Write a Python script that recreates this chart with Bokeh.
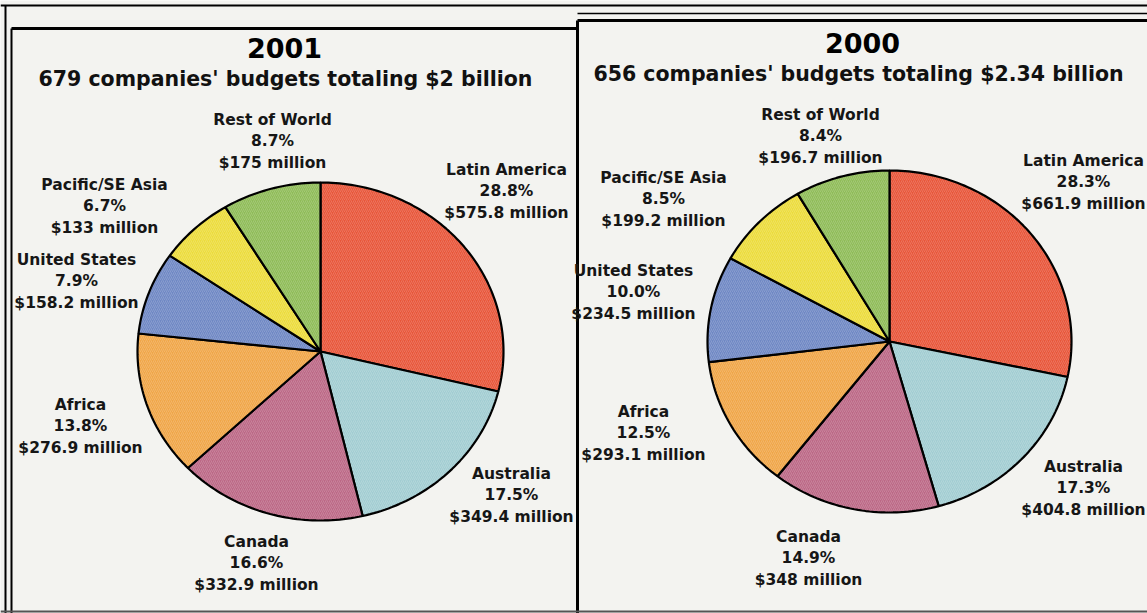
import math
from bokeh.plotting import figure
from bokeh.models import Range1d, ColumnDataSource
from bokeh.embed import file_html
from bokeh.resources import INLINE
from bokeh.core.properties import value

# ---------------- data ----------------
regions = ["Latin America", "Australia", "Canada", "Africa",
           "United States", "Pacific/SE Asia", "Rest of World"]
pct_2001 = [28.8, 17.5, 16.6, 13.8, 7.9, 6.7, 8.7]
amt_2001 = [575.8, 349.4, 332.9, 276.9, 158.2, 133, 175]
pct_2000 = [28.3, 17.3, 14.9, 12.5, 10.0, 8.5, 8.4]
amt_2000 = [661.9, 404.8, 348, 293.1, 234.5, 199.2, 196.7]
years = ["2001", "2000"]
subtitles = ["679 companies' budgets totaling $2 billion",
             "656 companies' budgets totaling $2.34 billion"]

# ---------------- styles / layout ----------------
colors = ["#e8563a", "#a2cdd2", "#bc6886", "#f0a648",
          "#6f88c4", "#ecdc3c", "#8fbc58"]
FONT = value("DejaVu Sans")
W, H = 1147, 613

# pie geometry (image pixel coordinates)
pies = [
    dict(cx=320, cy=351, rx=183, ry=169),
    dict(cx=889, cy=341, rx=182, ry=171),
]
title_pos = [dict(x=284, y=47, sx=285, sy=78), dict(x=862, y=42, sx=858, sy=73)]
label_pos = [
    [(506, 169), (511, 473), (256, 541), (80, 404), (76, 259), (104, 184), (272, 119)],
    [(1083, 160), (1083, 466), (808, 536), (643, 411), (633, 270), (663, 177), (820, 114)],
]
LINE_GAP = 21.5

p = figure(width=W, height=H, output_backend="svg", toolbar_location=None,
           x_range=Range1d(0, W), y_range=Range1d(H, 0),
           min_border=0, background_fill_color="#f3f3f0",
           border_fill_color="#f3f3f0", outline_line_color=None)
p.axis.visible = False
p.grid.visible = False

# frame decoration
seg = dict(line_color="black")
p.segment(x0=[0], y0=[5], x1=[W], y1=[5], line_width=2, **seg)
p.segment(x0=[5], y0=[5], x1=[5], y1=[H], line_width=2, **seg)
p.segment(x0=[11], y0=[28], x1=[11], y1=[H], line_width=2, **seg)
p.segment(x0=[11], y0=[28], x1=[577], y1=[28], line_width=3, **seg)
p.segment(x0=[577], y0=[13], x1=[W], y1=[13], line_width=1.5, **seg)
p.segment(x0=[577], y0=[20], x1=[W], y1=[20], line_width=3, **seg)
p.segment(x0=[577], y0=[20], x1=[577], y1=[H], line_width=3, **seg)
p.segment(x0=[0], y0=[611], x1=[W], y1=[611], line_width=2, line_color="#555555")


def wedge_shapes(pcts, cx, cy, rx, ry):
    total = sum(pcts)
    xs, ys = [], []
    start = 0.0
    for v in pcts:
        a0 = start / total * 2 * math.pi
        a1 = (start + v) / total * 2 * math.pi
        n = max(4, int(v * 3))
        angs = [a0 + (a1 - a0) * i / n for i in range(n + 1)]
        xs.append([cx] + [cx + rx * math.sin(a) for a in angs])
        ys.append([cy] + [cy - ry * math.cos(a) for a in angs])
        start += v
    return xs, ys


for k, (pcts, amts) in enumerate([(pct_2001, amt_2001), (pct_2000, amt_2000)]):
    g = pies[k]
    xs, ys = wedge_shapes(pcts, g["cx"], g["cy"], g["rx"], g["ry"])
    src = ColumnDataSource(dict(xs=xs, ys=ys, color=colors, region=regions))
    p.patches("xs", "ys", source=src, fill_color="color", line_color="black",
              line_width=2.2, hatch_pattern="right_diagonal_line",
              hatch_color="white", hatch_alpha=0.18, hatch_scale=4,
              hatch_weight=1)

    # labels
    lx, ly, lt = [], [], []
    for i, r in enumerate(regions):
        x0, y0 = label_pos[k][i]
        lines = [r, f"{pcts[i]:.1f}%", f"${amts[i]:g} million"]
        for j, t in enumerate(lines):
            lx.append(x0)
            ly.append(y0 + j * LINE_GAP)
            lt.append(t)
    p.text(x=lx, y=ly, text=lt, text_font=FONT, text_font_style="bold",
           text_font_size="15.5px", text_align="center", text_baseline="middle",
           text_color="#161616")

    tp = title_pos[k]
    p.text(x=[tp["x"]], y=[tp["y"]], text=[years[k]], text_font=FONT,
           text_font_style="bold", text_font_size="27px", text_align="center",
           text_baseline="middle", text_color="black")
    p.text(x=[tp["sx"]], y=[tp["sy"]], text=[subtitles[k]], text_font=FONT,
           text_font_style="bold", text_font_size="20.5px", text_align="center",
           text_baseline="middle", text_color="#111111")

open("out.html", "w").write(file_html(p, INLINE))
